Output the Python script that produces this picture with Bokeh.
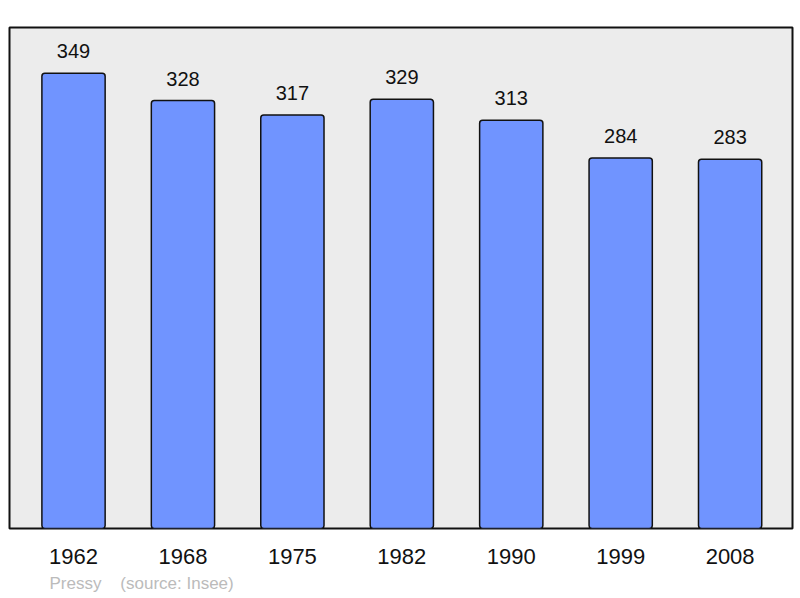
from bokeh.plotting import figure
from bokeh.models import ColumnDataSource, Range1d, FixedTicker, Title
from bokeh.core.properties import value
from bokeh.embed import file_html
from bokeh.resources import INLINE

years = ["1962", "1968", "1975", "1982", "1990", "1999", "2008"]
population = [349, 328, 317, 329, 313, 284, 283]
town = "Pressy"
source_note = "(source: Insee)"

xs = list(range(len(years)))
src = ColumnDataSource(dict(x=xs, top=population, lbl=[str(v) for v in population]))

W, H = 800, 598
FL, FT, FW, FH = 9, 27, 783, 501
p = figure(width=W, height=H, output_backend="svg", toolbar_location=None,
           x_range=Range1d(-0.585, 6.57), y_range=Range1d(0, 384),
           min_border_left=FL, min_border_right=W - FL - FW,
           min_border_top=FT, min_border_bottom=H - FT - FH)
p.background_fill_color = "#ececec"
p.border_fill_color = "white"
p.outline_line_color = "#111111"
p.outline_line_width = 2
p.grid.visible = False
p.yaxis.visible = False

ax = p.xaxis[0]
ax.ticker = FixedTicker(ticks=xs)
ax.major_label_overrides = {i: y for i, y in enumerate(years)}
ax.axis_line_color = None
ax.major_tick_line_color = None
ax.minor_tick_line_color = None
ax.major_tick_out = 0
ax.major_label_standoff = 20
ax.major_label_text_font = "Liberation Sans"
ax.major_label_text_font_size = "22px"
ax.major_label_text_color = "#111111"

p.vbar(x="x", top="top", bottom=0, width=0.578, source=src,
       fill_color="#7094ff", line_color="#111111", line_width=1.5,
       border_radius=3)

p.text(x="x", y="top", text="lbl", source=src, y_offset=-22,
       text_align="center", text_baseline="alphabetic",
       text_font=value("Liberation Sans"), text_font_size="20px",
       text_color="#111111")

footer = Title(text=town + "\u00a0" * 4 + source_note, align="left", offset=40,
               text_font="Liberation Sans", text_font_size="17px",
               text_font_style="normal", text_color="#bbbbbb", standoff=10)
p.add_layout(footer, "below")

open("out.html", "w").write(file_html(p, INLINE))
